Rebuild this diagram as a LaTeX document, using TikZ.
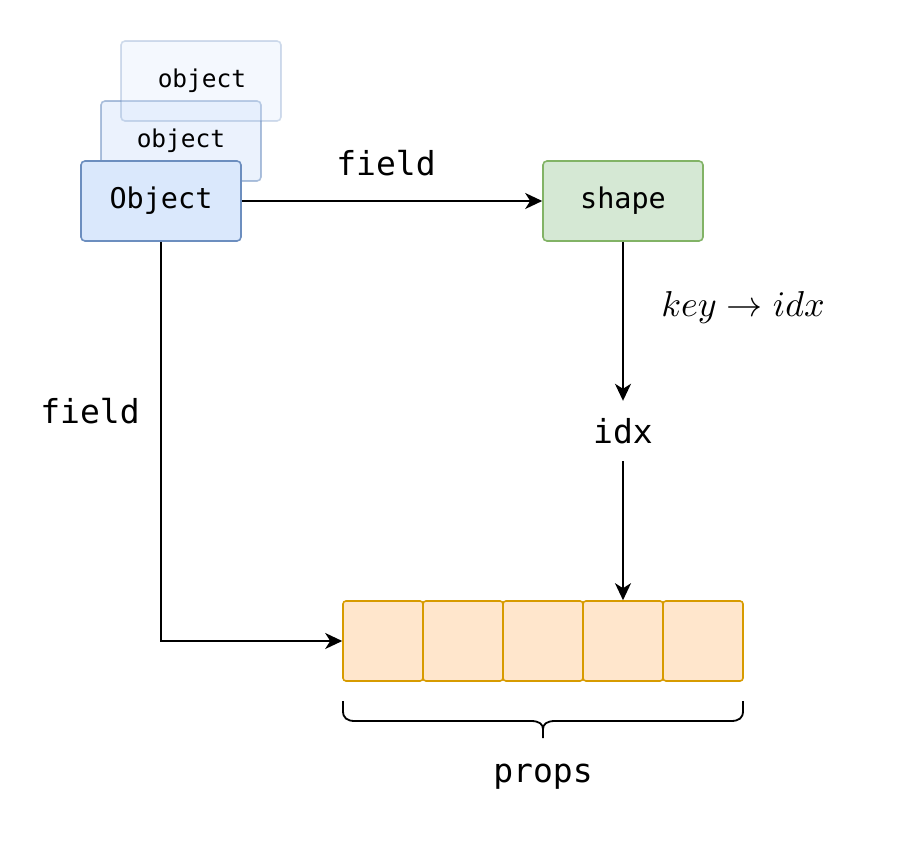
\documentclass[tikz,border=0pt]{standalone}
\usepackage{fontspec}
\setmonofont{DejaVu Sans Mono}
\usetikzlibrary{arrows.meta}
\definecolor{blueF}{HTML}{DAE8FC}
\definecolor{blueD}{HTML}{6C8EBF}
\definecolor{greenF}{HTML}{D5E8D4}
\definecolor{greenD}{HTML}{82B366}
\definecolor{orangeF}{HTML}{FFE6CC}
\definecolor{orangeD}{HTML}{D79B00}
\tikzset{
  box/.style={rectangle, rounded corners=4pt, line width=1.6pt, minimum width=160pt, minimum height=80pt, inner sep=0pt, font=\ttfamily\fontsize{28.5}{33}\selectfont},
  objbox/.style={box, fill=blueF, draw=blueD},
  shapebox/.style={box, fill=greenF, draw=greenD},
  smallobj/.style={objbox, text opacity=1, font=\ttfamily\fontsize{24.5}{29}\selectfont},
  cell/.style={rectangle, rounded corners=3pt, line width=1.6pt, fill=orangeF, draw=orangeD, minimum width=80pt, minimum height=80pt, inner sep=0pt},
  lbl/.style={font=\ttfamily\fontsize{33}{38}\selectfont, inner sep=0pt},
  conn/.style={line width=2pt, -{Stealth[length=17pt,width=16pt,inset=5pt]}},
  bracepath/.style={line width=1.8pt},
}
\begin{document}
\begin{tikzpicture}[x=1pt,y=-1pt]
\useasboundingbox (0,0) rectangle (916,842);
% stacked objects
\node[smallobj, fill opacity=0.55, draw opacity=0.55] (obj2) at (181,141) {object};
\node[smallobj, fill opacity=0.3, draw opacity=0.3] (obj3) at (201,81) {\hspace{2pt}object};
\node[objbox] (obj) at (161,201) {Object};
\node[shapebox] (shape) at (623,201) {shape};
% props cells
\node[cell] (c1) at (383,641) {};
\node[cell] (c2) at (463,641) {};
\node[cell] (c3) at (543,641) {};
\node[cell] (c4) at (623,641) {};
\node[cell] (c5) at (703,641) {};
% idx
\node[lbl, minimum height=60pt] (idx) at (623,431) {idx};
% connectors
\draw[conn] (obj.east) -- (shape.west);
\draw[conn] (shape.south) -- (idx.north);
\draw[conn] (idx.south) -- (c4.north);
\draw[conn] (obj.south) |- (c1.west);
% labels
\node[lbl] (lf1) at (386,163) {field};
\node[lbl] (lf2) at (90,411) {field};
\node[inner sep=0pt] (lk) at (743,308) {\scalebox{3.6}{$key \to idx$}};
% brace
\draw[bracepath] (343,701) -- (343,711) .. controls (343,718) and (347,721) .. (355,721) -- (531,721)
  .. controls (539,721) and (543,724) .. (543,729) -- (543,738);
\draw[bracepath] (743,701) -- (743,711) .. controls (743,718) and (739,721) .. (731,721) -- (555,721)
  .. controls (547,721) and (543,724) .. (543,729);
\node[lbl] (lp) at (543,777) {props};
\end{tikzpicture}
\end{document}
